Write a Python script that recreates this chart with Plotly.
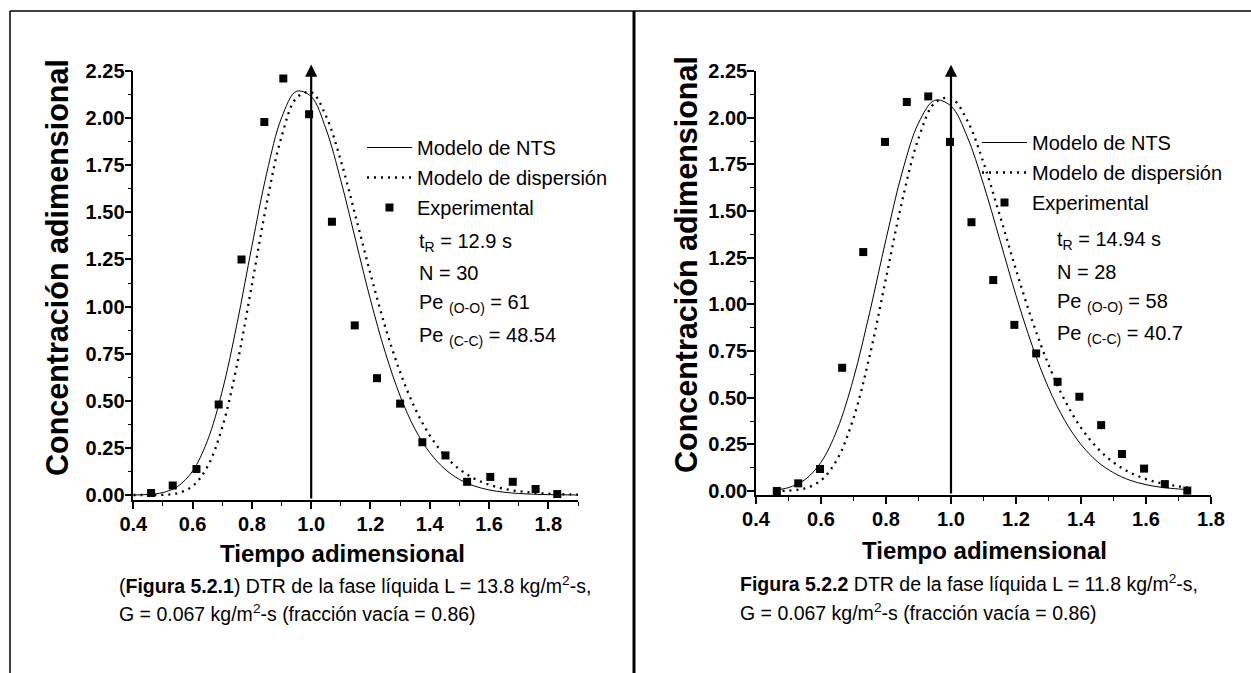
import plotly.graph_objects as go

W, H = 1251, 673

# ---------------- data ----------------
# Left panel (Figura 5.2.1)
X_CURVE_L = [0.40, 0.45, 0.50, 0.55, 0.60, 0.65, 0.70, 0.75, 0.80, 0.85, 0.90, 0.95,
             1.00, 1.05, 1.10, 1.15, 1.20, 1.25, 1.30, 1.35, 1.40, 1.45, 1.50, 1.55,
             1.60, 1.65, 1.70, 1.75, 1.80, 1.85, 1.90]
NTS_L = [0.000, 0.003, 0.013, 0.046, 0.127, 0.288, 0.551, 0.910, 1.320, 1.708, 2.001, 2.142,
         2.114, 1.942, 1.669, 1.352, 1.036, 0.756, 0.526, 0.350, 0.225, 0.139, 0.083, 0.048,
         0.027, 0.015, 0.008, 0.004, 0.002, 0.001, 0.000]
DISP_L = [0.000, 0.000, 0.001, 0.010, 0.047, 0.150, 0.359, 0.692, 1.115, 1.548, 1.901, 2.106,
          2.137, 2.011, 1.774, 1.478, 1.174, 0.891, 0.652, 0.461, 0.316, 0.211, 0.137, 0.087,
          0.055, 0.033, 0.020, 0.012, 0.007, 0.004, 0.002]
EXP_X_L = [0.46, 0.533, 0.613, 0.688, 0.765, 0.842, 0.906, 0.993, 1.07, 1.147, 1.222, 1.30,
           1.375, 1.453, 1.526, 1.604, 1.68, 1.757, 1.83]
EXP_Y_L = [0.01, 0.05, 0.138, 0.48, 1.25, 1.98, 2.21, 2.02, 1.45, 0.90, 0.62, 0.485,
           0.28, 0.21, 0.07, 0.096, 0.07, 0.032, 0.005]

# Right panel (Figura 5.2.2)
X_CURVE_R = [0.46, 0.50, 0.55, 0.60, 0.65, 0.70, 0.75, 0.80, 0.85, 0.90, 0.95, 1.00,
             1.05, 1.10, 1.15, 1.20, 1.25, 1.30, 1.35, 1.40, 1.45, 1.50, 1.55, 1.60,
             1.65, 1.70, 1.73]
NTS_R = [0.006, 0.018, 0.060, 0.154, 0.330, 0.603, 0.958, 1.348, 1.709, 1.971, 2.093, 2.062,
         1.898, 1.643, 1.347, 1.048, 0.778, 0.553, 0.378, 0.249, 0.158, 0.098, 0.058, 0.034,
         0.019, 0.011, 0.007]
DISP_R = [0.000, 0.002, 0.014, 0.057, 0.170, 0.390, 0.726, 1.140, 1.556, 1.889, 2.079, 2.105,
          1.985, 1.759, 1.478, 1.185, 0.912, 0.677, 0.486, 0.339, 0.231, 0.153, 0.100, 0.064,
          0.040, 0.025, 0.018]
EXP_X_R = [0.464, 0.530, 0.597, 0.665, 0.730, 0.797, 0.864, 0.930, 0.997, 1.063, 1.130, 1.195,
           1.262, 1.328, 1.395, 1.462, 1.526, 1.594, 1.658, 1.727]
EXP_Y_R = [0.0, 0.041, 0.118, 0.66, 1.28, 1.87, 2.084, 2.114, 1.87, 1.44, 1.13, 0.89,
           0.737, 0.585, 0.505, 0.353, 0.198, 0.12, 0.037, 0.002]

X_TICKS = [0.4, 0.6, 0.8, 1.0, 1.2, 1.4, 1.6, 1.8]
X_TICKTEXT = ["0.4", "0.6", "0.8", "1.0", "1.2", "1.4", "1.6", "1.8"]
Y_TICKS = [0.0, 0.25, 0.5, 0.75, 1.0, 1.25, 1.5, 1.75, 2.0, 2.25]
Y_TICKTEXT = ["0.00", "0.25", "0.50", "0.75", "1.00", "1.25", "1.50", "1.75", "2.00", "2.25"]

NAMES = ["Modelo de NTS", "Modelo de dispersión", "Experimental"]
PARAMS_L = ["t<sub>R</sub> = 12.9 s", "N = 30", "Pe <sub>(O-O)</sub> = 61", "Pe <sub>(C-C)</sub> = 48.54"]
PARAMS_R = ["t<sub>R</sub> = 14.94 s", "N = 28", "Pe <sub>(O-O)</sub> = 58", "Pe <sub>(C-C)</sub> = 40.7"]
CAPTION_L = ["(<b>Figura 5.2.1</b>) DTR de la fase líquida L = 13.8 kg/m<sup>2</sup>-s,",
             "G = 0.067 kg/m<sup>2</sup>-s (fracción vacía = 0.86)"]
CAPTION_R = ["<b>Figura 5.2.2</b> DTR de la fase líquida L = 11.8 kg/m<sup>2</sup>-s,",
             "G = 0.067 kg/m<sup>2</sup>-s (fracción vacía = 0.86)"]
X_TITLE = "Tiempo adimensional"
Y_TITLE = "Concentración adimensional"

FONT = "Liberation Sans, Arial, sans-serif"

def px_x(p):
    return p / W

def px_y(p):
    return 1 - p / H

fig = go.Figure()

DOT = "2px,5px"

def add_panel(xs, nts, disp, ex, ey, xa, ya, leg):
    fig.add_trace(go.Scatter(x=xs, y=nts, mode="lines", name=NAMES[0],
                             line=dict(color="black", width=1, shape="spline"),
                             xaxis=xa, yaxis=ya, legend=leg, legendgroup=leg + "a"))
    fig.add_trace(go.Scatter(x=xs, y=disp, mode="lines", name=NAMES[1],
                             line=dict(color="black", width=2.3, dash=DOT, shape="spline"),
                             xaxis=xa, yaxis=ya, legend=leg, legendgroup=leg + "b"))
    fig.add_trace(go.Scatter(x=ex, y=ey, mode="markers", name=NAMES[2],
                             marker=dict(symbol="square", size=8, color="black"),
                             xaxis=xa, yaxis=ya, legend=leg, legendgroup=leg + "c"))

add_panel(X_CURVE_L, NTS_L, DISP_L, EXP_X_L, EXP_Y_L, "x", "y", "legend")
add_panel(X_CURVE_R, NTS_R, DISP_R, EXP_X_R, EXP_Y_R, "x2", "y2", "legend2")

def xaxis_cfg(dom, rng):
    return dict(domain=dom, range=rng, showline=True, linecolor="black", linewidth=1.5,
                ticks="outside", ticklen=7, tickwidth=1.5, tickcolor="black",
                tickmode="array", tickvals=X_TICKS, ticktext=X_TICKTEXT,
                minor=dict(ticks="outside", ticklen=4, tickwidth=1.2, dtick=0.1, tick0=0.4,
                           tickcolor="black"),
                showgrid=False, zeroline=False, ticklabelstandoff=-2, automargin=False,
                tickfont=dict(family=FONT, size=20, color="black", weight="bold"))

def yaxis_cfg(dom, rng, anchor):
    return dict(domain=dom, range=rng, anchor=anchor, showline=True, linecolor="black",
                linewidth=1.5, ticks="outside", ticklen=7, tickwidth=1.5, tickcolor="black",
                tickmode="array", tickvals=Y_TICKS, ticktext=Y_TICKTEXT,
                minor=dict(ticks="outside", ticklen=4, tickwidth=1.2, dtick=0.125, tick0=0,
                           tickcolor="black"),
                showgrid=False, zeroline=False, automargin=False, ticklabelstandoff=-4,
                tickfont=dict(family=FONT, size=20, color="black", weight="bold"))

fig.update_layout(
    width=W, height=H,
    margin=dict(l=0, r=0, t=0, b=0, autoexpand=False),
    paper_bgcolor="white", plot_bgcolor="white",
    font=dict(family=FONT, color="black"),
    xaxis=dict(**xaxis_cfg([px_x(133.3), px_x(578)], [0.4, 1.9]), anchor="y"),
    yaxis=yaxis_cfg([px_y(500), px_y(71)], [-0.0265, 2.25], "x"),
    xaxis2=dict(**xaxis_cfg([px_x(756), px_x(1211)], [0.4, 1.8]), anchor="y2"),
    yaxis2=yaxis_cfg([px_y(495), px_y(71)], [-0.0214, 2.25], "x2"),
    legend=dict(x=px_x(362), y=px_y(128), xanchor="left", yanchor="top",
                bgcolor="rgba(0,0,0,0)", font=dict(family=FONT, size=20, color="black"),
                itemwidth=45, tracegroupgap=1, traceorder="grouped"),
    legend2=dict(x=px_x(977), y=px_y(123), xanchor="left", yanchor="top",
                 bgcolor="rgba(0,0,0,0)", font=dict(family=FONT, size=20, color="black"),
                 itemwidth=45, tracegroupgap=1, traceorder="grouped"),
    showlegend=True,
)

ann = []
# vertical arrows at t = 1
for xr, yr in (("x", "y domain"), ("x2", "y2 domain")):
    ann.append(dict(x=1.0, y=1.015, xref=xr, yref=yr, ax=1.0, ay=0, axref=xr, ayref=yr,
                    showarrow=True, arrowhead=2, arrowsize=1.1, arrowwidth=2.2,
                    arrowcolor="black", text=""))

def text_ann(x, y, text, size, xanchor="center", angle=0, bold=False):
    return dict(x=px_x(x), y=px_y(y), xref="paper", yref="paper",
                text=("<b>" + text + "</b>") if bold else text,
                showarrow=False, xanchor=xanchor, yanchor="middle", textangle=angle,
                font=dict(size=size, family=FONT, color="black"))

# axis titles
ann.append(text_ann(342, 553, X_TITLE, 24, bold=True))
ann.append(text_ann(984, 550, X_TITLE, 24, bold=True))
ann.append(text_ann(57, 268, Y_TITLE, 30.5, angle=-90, bold=True))
ann.append(text_ann(686, 265, Y_TITLE, 30.5, angle=-90, bold=True))

# parameter texts
for t, yy in zip(PARAMS_L, [242, 273, 304, 336]):
    ann.append(text_ann(417, yy, t, 20, xanchor="left"))
for t, yy in zip(PARAMS_R, [240, 272, 302, 334]):
    ann.append(text_ann(1055, yy, t, 20, xanchor="left"))

# captions
for t, yy in zip(CAPTION_L, [585, 613]):
    ann.append(text_ann(117, yy, t, 19.5, xanchor="left"))
for t, yy in zip(CAPTION_R, [583, 612]):
    ann.append(text_ann(738, yy, t, 19.5, xanchor="left"))

fig.update_layout(annotations=ann)

# page frame (table borders)
shapes = [
    dict(type="line", xref="paper", yref="paper", x0=px_x(10), x1=1, y0=px_y(11), y1=px_y(11),
         line=dict(color="black", width=1.5)),
    dict(type="line", xref="paper", yref="paper", x0=px_x(10), x1=px_x(10), y0=px_y(11), y1=0,
         line=dict(color="black", width=1.5)),
    dict(type="line", xref="paper", yref="paper", x0=px_x(634), x1=px_x(634), y0=px_y(11), y1=0,
         line=dict(color="black", width=3)),
]
fig.update_layout(shapes=shapes)

fig.write_html("out.html", config={"displayModeBar": False},
               post_script="document.body.style.margin='0px';")
